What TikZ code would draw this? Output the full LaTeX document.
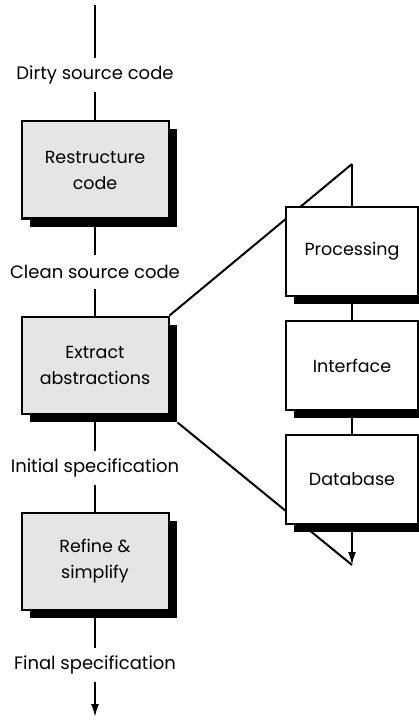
\documentclass[tikz,border=0pt]{standalone}
\usepackage{fontspec}
\setmainfont{Poppins}
\usetikzlibrary{arrows.meta,shadows}
\tikzset{
  procbox/.style={draw, line width=2pt, fill=gray!20, minimum width=147pt, minimum height=97pt,
    align=center, inner sep=0pt, font=\fontsize{17.5}{26}\selectfont,
    drop shadow={shadow xshift=8pt, shadow yshift=-8pt, opacity=1, fill=black}},
  partbox/.style={procbox, fill=white, minimum width=132pt, minimum height=89pt},
  flowlabel/.style={minimum height=34pt, inner sep=0pt, font=\fontsize{18}{22}\selectfont},
  conn/.style={line width=2pt}
}
\begin{document}
\begin{tikzpicture}[x=1pt,y=-1pt]
\useasboundingbox (0,0) rectangle (419,727);
\coordinate (top) at (95,5);
\node[flowlabel] (l1) at (95,75) {Dirty source code};
\node[procbox] (b1) at (95,170) {Restructure\\code};
\node[flowlabel] (l2) at (95,272) {Clean source code};
\node[procbox] (b2) at (95,365) {Extract\\abstractions};
\node[flowlabel] (l3) at (95,468) {Initial specification};
\node[procbox] (b3) at (95,561.5) {Refine \&\\simplify};
\node[flowlabel] (l4) at (95,665) {Final specification};
\coordinate (end) at (95,717);
\coordinate (apex) at (352,164);
\coordinate (tip) at (352,565);
\coordinate (lowcorner) at ([shift={(8pt,-8pt)}]b2.south east);
\draw[conn] (b2.north east) -- (apex);
\draw[conn] (lowcorner) -- (tip);
\node[partbox] (p) at (352,251.5) {Processing};
\node[partbox] (i) at (352,365.5) {Interface};
\node[partbox] (d) at (352,479) {Database};
\draw[conn] (apex) -- (p.north);
\draw[conn] (p.south) -- (i.north);
\draw[conn] (i.south) -- (d.north);
\draw[conn,-{Latex[length=13pt,width=8pt]}] (d.south) -- (tip);
\draw[conn] (top) -- (l1.north);
\draw[conn] (l1.south) -- (b1.north);
\draw[conn] (b1.south) -- (l2.north);
\draw[conn] (l2.south) -- (b2.north);
\draw[conn] (b2.south) -- (l3.north);
\draw[conn] (l3.south) -- (b3.north);
\draw[conn] (b3.south) -- (l4.north);
\draw[conn,-{Latex[length=13pt,width=8pt]}] (l4.south) -- (end);
\end{tikzpicture}
\end{document}
